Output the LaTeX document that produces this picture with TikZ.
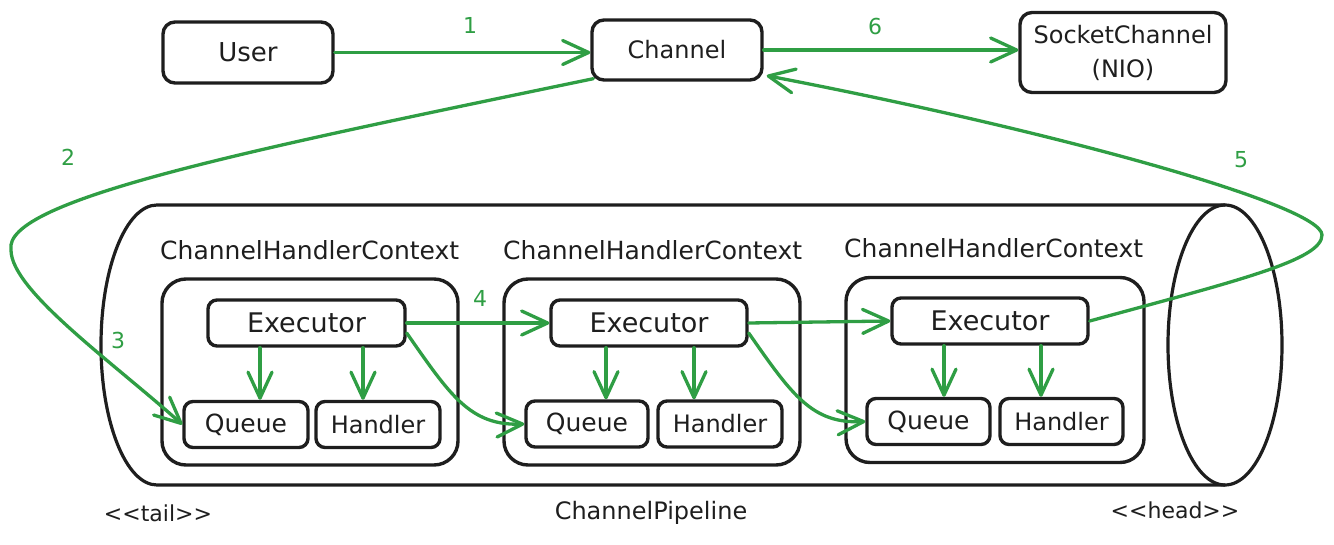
\documentclass[tikz,border=0pt]{standalone}
\usepackage{fontspec}
\setmainfont{DejaVu Sans}
\usetikzlibrary{arrows.meta}
\definecolor{ink}{HTML}{1E1E1E}
\definecolor{grn}{HTML}{2F9E44}
\begin{document}
\begin{tikzpicture}[x=1pt,y=-1pt,
  box/.style={draw=ink,line width=3.4pt,rounded corners=12pt,inner sep=0pt,align=center,text=ink,font=\fontsize{24}{34}\selectfont},
  ctx/.style={draw=ink,line width=3.4pt,rounded corners=24pt,inner sep=0pt,minimum width=296pt,minimum height=186pt},
  smallbox/.style={box,rounded corners=9pt,minimum height=46pt},
  lbl/.style={text=ink,font=\fontsize{24}{28}\selectfont,inner sep=0pt},
  num/.style={text=grn,font=\fontsize{22}{24}\selectfont,inner sep=0pt},
  flow/.style={draw=grn,line width=3.3pt,line cap=round,line join=round,-{Straight Barb[length=26pt,width=24pt,line cap=round,line join=round]}},
  cyl/.style={draw=ink,line width=3.2pt}
]
\useasboundingbox (0,0) rectangle (1334,545);
% pipeline cylinder
\draw[cyl] (1225,205) -- (157,205) arc[start angle=90,end angle=270,x radius=56pt,y radius=140pt] -- (1225,485);
\draw[cyl] (1225,345) ellipse[x radius=57pt,y radius=140pt];
% top nodes
\node[box,minimum width=170pt,minimum height=61pt,font=\fontsize{26}{30}\selectfont] (u) at (248,52.5) {User};
\node[box,minimum width=170pt,minimum height=60pt] (ch) at (677,50) {Channel};
\node[box,minimum width=206pt,minimum height=80pt] (sc) at (1123,52.5) {SocketChannel\\(NIO)};
% contexts
\node[ctx] (c1) at (310,372) {};
\node[ctx] (c2) at (652,372) {};
\node[ctx,minimum width=298pt,minimum height=185pt] (c3) at (995,370) {};
\node[lbl,anchor=west,font=\fontsize{25}{28}\selectfont] (l1) at (160,250) {ChannelHandlerContext};
\node[lbl,anchor=west,font=\fontsize{25}{28}\selectfont] (l2) at (503,250) {ChannelHandlerContext};
\node[lbl,anchor=west,font=\fontsize{25}{28}\selectfont] (l3) at (844,248) {ChannelHandlerContext};
% executors, queues, handlers
\node[smallbox,minimum width=197pt,font=\fontsize{27}{30}\selectfont] (e1) at (306.5,323) {Executor};
\node[smallbox,minimum width=196pt,font=\fontsize{27}{30}\selectfont] (e2) at (649,323) {Executor};
\node[smallbox,minimum width=196pt,font=\fontsize{27}{30}\selectfont] (e3) at (990,321) {Executor};
\node[smallbox,minimum width=124pt,font=\fontsize{25}{28}\selectfont] (q1) at (246,424.5) {Queue};
\node[smallbox,minimum width=122pt,font=\fontsize{25}{28}\selectfont] (q2) at (587,424) {Queue};
\node[smallbox,minimum width=123pt,font=\fontsize{25}{28}\selectfont] (q3) at (928.5,421.5) {Queue};
\node[smallbox,minimum width=124pt,font=\fontsize{24}{28}\selectfont] (h1) at (378,424.5) {Handler};
\node[smallbox,minimum width=124pt,font=\fontsize{24}{28}\selectfont] (h2) at (720,424) {Handler};
\node[smallbox,minimum width=123pt,font=\fontsize{24}{28}\selectfont] (h3) at (1061.5,421.5) {Handler};
% bottom labels
\node[lbl,font=\fontsize{22}{26}\selectfont] (tail) at (158,513) {<\kern0pt<tail>\kern0pt>};
\node[lbl] (pipe) at (651,513) {ChannelPipeline};
\node[lbl,font=\fontsize{22}{26}\selectfont] (head) at (1175,510) {<\kern0pt<head>\kern0pt>};
% numbers
\node[num] (n1) at (470,25) {1};
\node[num] (n2) at (68,157) {2};
\node[num] (n3) at (118,340) {3};
\node[num] (n4) at (480,298) {4};
\node[num] (n5) at (1241,160) {5};
\node[num] (n6) at (875,26) {6};
% connectors
\draw[flow] (u.east) -- (u.east -| ch.west);
\draw[flow] (ch.east) -- (ch.east -| sc.west);
\draw[flow] ([xshift=3pt,yshift=3pt]ch.south west) .. controls (250,150) and (2,200) .. (11,250) .. controls (11,290) and (110,360) .. (q1.west);
\draw[flow] (e1.east) -- (e2.west);
\draw[flow] (e2.east) -- (e3.west);
\draw[flow] ([yshift=-10pt]e1.east) .. controls (450,395) and (470,426) .. (q2.west);
\draw[flow] ([yshift=-10pt]e2.east) .. controls (792,395) and (812,424) .. (q3.west);
\draw[flow] (e3.east) .. controls (1240,280) and (1322,260) .. (1322,235) .. controls (1322,205) and (1050,130) .. ([xshift=3pt,yshift=6pt]ch.south east);
\draw[flow] (e1.south -| 260,0) -- (q1.north -| 260,0);
\draw[flow] (e1.south -| 363,0) -- (h1.north -| 363,0);
\draw[flow] (e2.south -| 606,0) -- (q2.north -| 606,0);
\draw[flow] (e2.south -| 694,0) -- (h2.north -| 694,0);
\draw[flow] (e3.south -| 944,0) -- (q3.north -| 944,0);
\draw[flow] (e3.south -| 1041,0) -- (h3.north -| 1041,0);
\end{tikzpicture}
\end{document}
